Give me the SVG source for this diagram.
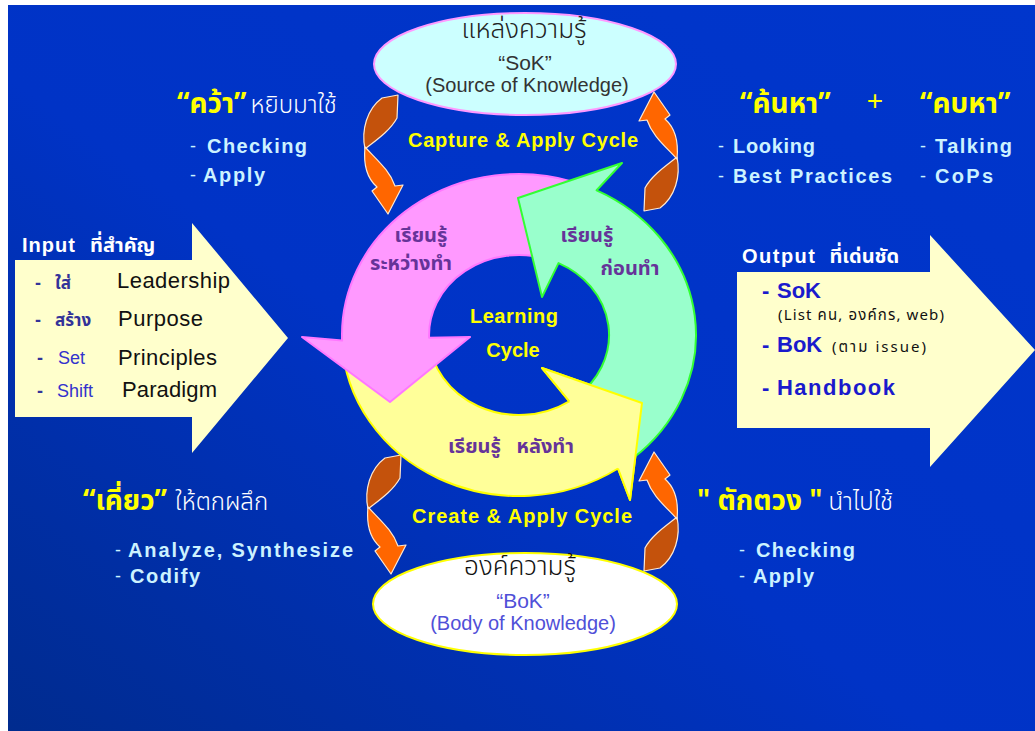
<svg xmlns="http://www.w3.org/2000/svg" width="1035" height="731" viewBox="0 0 1035 731">
<style>
.en{font-family:"Liberation Sans",Arial,sans-serif}
.th{font-family:"Noto Sans Thai","Noto Sans","DejaVu Sans",sans-serif}
.lt{fill:#ccf2ff;font-weight:bold;font-size:20px;font-family:"Liberation Sans",Arial,sans-serif}
.dash{fill:#ccf2ff;font-size:18px;font-family:"Liberation Sans",Arial,sans-serif}
.ttl{fill:#ffff00;font-weight:bold;font-size:28px}
.sub{fill:#ffffff;font-size:24px;font-weight:300}
.ring{fill:#663399;font-weight:bold;font-size:20px}
.cyc{fill:#ffff00;font-weight:bold;font-size:20px;font-family:"Liberation Sans",Arial,sans-serif}
.in{fill:#111111;font-size:22px;font-family:"Liberation Sans",Arial,sans-serif}
.inth{fill:#333399;font-weight:bold;font-size:17px}
.inen{fill:#3333cc;font-size:18px;font-family:"Liberation Sans",Arial,sans-serif}
.outb{fill:#1a1acc;font-weight:bold;font-size:22px;font-family:"Liberation Sans",Arial,sans-serif}
.outs{fill:#111111;font-size:15px}
.hdr{fill:#ffffff;font-weight:bold;font-size:20px}
</style>
<defs>
<linearGradient id="bg" x1="1" y1="0" x2="0" y2="1">
<stop offset="0" stop-color="#0036cc"/>
<stop offset="0.55" stop-color="#0033c6"/>
<stop offset="1" stop-color="#002b8e"/>
</linearGradient>
<g id="oarr" stroke="#ffe8d0" stroke-width="1.2" stroke-linejoin="round">
<path d="M32,13 L48,10 L47,33 C40,46 25,56 15,64 C11,45 17,24 32,13 Z" fill="#c4520c"/>
<path d="M15,62 C13,82 19,95 27,102 L22,106 L38,129 L53,100 L45,101 C40,86 28,76 15,62 Z" fill="#ff6600"/>
</g>
</defs>
<rect x="0" y="0" width="1035" height="731" fill="#ffffff"/>
<rect x="8" y="5" width="1027" height="726" fill="url(#bg)"/>

<g id="orange-arrows">
<use href="#oarr" transform="translate(350,85)"/>
<use href="#oarr" transform="translate(692,221) scale(-1,-1)"/>
<use href="#oarr" transform="translate(353,445)"/>
<use href="#oarr" transform="translate(692,581) scale(-1,-1)"/>
</g>

<g id="sok">
<ellipse cx="525" cy="64" rx="151" ry="51" fill="#ccffff" stroke="#ff99ff" stroke-width="2"/>
<text class="th" x="524" y="38" text-anchor="middle" font-size="26" fill="#222222" font-weight="300">แหล่งความรู้</text>
<text class="en" x="525" y="70" text-anchor="middle" font-size="21" fill="#333333">“SoK”</text>
<text class="en" x="527" y="92" text-anchor="middle" font-size="20" fill="#333333">(Source of Knowledge)</text>
</g>

<g id="bok">
<ellipse cx="525" cy="604" rx="152" ry="51" fill="#ffffff" stroke="#ffff00" stroke-width="2"/>
<text class="th" x="520" y="575" text-anchor="middle" font-size="26" fill="#111111" font-weight="300">องค์ความรู้</text>
<text class="en" x="523" y="608" text-anchor="middle" font-size="21" fill="#5050d8">“BoK”</text>
<text class="en" x="523" y="630" text-anchor="middle" font-size="20" fill="#5050d8">(Body of Knowledge)</text>
</g>

<g id="cycle-labels">
<text class="cyc" x="408" y="147" textLength="230" lengthAdjust="spacing">Capture &amp; Apply Cycle</text>
<text class="cyc" x="412" y="523" textLength="220" lengthAdjust="spacing">Create &amp; Apply Cycle</text>
</g>

<g id="learning-cycle">
<path d="M342.1,340.6 A177,161 0 0 0 618.0,468.5 L630,500 L642,403 L542,368 L569.3,401.3 A90,80 0 0 1 429.1,337.8 Z" fill="#ffff99" stroke="#ffff00" stroke-width="2" stroke-linejoin="round"/>
<path d="M573.7,181.9 A177,161 0 0 0 342.1,340.6 L302,337 L390,402 L470,337 L429.1,337.8 A90,80 0 0 1 546.8,258.9 Z" fill="#ff99ff" stroke="#ff77ff" stroke-width="2" stroke-linejoin="round"/>
<path d="M632.8,458.3 A177,161 0 0 0 596.6,190.3 L622,163 L518,198 L542,297 L558.5,263.1 A90,80 0 0 1 576.9,396.3 Z" fill="#99ffcc" stroke="#33ff33" stroke-width="2" stroke-linejoin="round"/>
<path d="M569.3,401.3 L542,368 L642,403 L630,500 L618,468.5 Z" fill="#ffff99"/>
<path d="M569.3,401.3 L542,368 L642,403 L630,500 L618,468.5" fill="none" stroke="#ffff00" stroke-width="2" stroke-linejoin="round"/>
<text class="th ring" x="421" y="242" text-anchor="middle">เรียนรู้</text>
<text class="th ring" x="411" y="270" text-anchor="middle">ระหว่างทำ</text>
<text class="th ring" x="587" y="242" text-anchor="middle">เรียนรู้</text>
<text class="th ring" x="630" y="275" text-anchor="middle">ก่อนทำ</text>
<text class="th ring" x="511" y="453" text-anchor="middle" xml:space="preserve">เรียนรู้   หลังทำ</text>
<text class="cyc" x="470" y="323" textLength="88" lengthAdjust="spacing">Learning</text>
<text class="cyc" x="513" y="357" text-anchor="middle">Cycle</text>
</g>

<g id="capture">
<text class="th" x="177" y="113"><tspan class="ttl">“คว้า”</tspan><tspan class="sub" dx="4">หยิบมาใช้</tspan></text>
<text class="dash" x="190" y="152">-</text>
<text class="lt" x="207" y="153" textLength="100" lengthAdjust="spacing">Checking</text>
<text class="dash" x="190" y="181">-</text>
<text class="lt" x="203" y="182" textLength="62" lengthAdjust="spacing">Apply</text>
</g>

<g id="search">
<text class="th ttl" x="740" y="113">“ค้นหา”</text>
<text class="en" x="875" y="110" text-anchor="middle" font-size="28" fill="#ffff00">+</text>
<text class="th ttl" x="920" y="113">“คบหา”</text>
<text class="dash" x="718" y="152">-</text>
<text class="lt" x="733" y="153" textLength="82" lengthAdjust="spacing">Looking</text>
<text class="dash" x="718" y="182">-</text>
<text class="lt" x="733" y="183" textLength="159" lengthAdjust="spacing">Best Practices</text>
<text class="dash" x="920" y="152">-</text>
<text class="lt" x="935" y="153" textLength="77" lengthAdjust="spacing">Talking</text>
<text class="dash" x="920" y="182">-</text>
<text class="lt" x="935" y="183" textLength="58" lengthAdjust="spacing">CoPs</text>
</g>

<g id="chew">
<text class="th" x="83" y="510"><tspan class="ttl">“เคี่ยว”</tspan><tspan class="sub" dx="8">ให้ตกผลึก</tspan></text>
<text class="dash" x="115" y="556">-</text>
<text class="lt" x="128" y="557" textLength="225" lengthAdjust="spacing">Analyze, Synthesize</text>
<text class="dash" x="115" y="582">-</text>
<text class="lt" x="130" y="583" textLength="70" lengthAdjust="spacing">Codify</text>
</g>

<g id="scoop">
<text class="th" x="697" y="510" xml:space="preserve"><tspan class="ttl" font-size="24">" ตักตวง "</tspan><tspan class="sub" dx="6">นำไปใช้</tspan></text>
<text class="dash" x="739" y="556">-</text>
<text class="lt" x="756" y="557" textLength="99" lengthAdjust="spacing">Checking</text>
<text class="dash" x="739" y="582">-</text>
<text class="lt" x="753" y="583" textLength="61" lengthAdjust="spacing">Apply</text>
</g>

<g id="input">
<polygon points="15,260 192,260 192,223 288,338 192,453 192,417 15,417" fill="#ffffcc"/>
<text class="th hdr" x="22" y="252"><tspan class="en" textLength="53">Input</tspan><tspan dx="14">ที่สำคัญ</tspan></text>
<text class="en" x="35" y="289" font-size="18" font-weight="bold" fill="#333399">-</text>
<text class="th inth" x="55" y="289">ใส่</text>
<text class="in" x="117" y="288" textLength="113" lengthAdjust="spacing">Leadership</text>
<text class="en" x="35" y="326" font-size="18" font-weight="bold" fill="#333399">-</text>
<text class="th inth" x="55" y="326">สร้าง</text>
<text class="in" x="118" y="326" textLength="85" lengthAdjust="spacing">Purpose</text>
<text class="en" x="37" y="364" font-size="18" font-weight="bold" fill="#333399">-</text>
<text class="inen" x="58" y="364">Set</text>
<text class="in" x="118" y="365" textLength="99" lengthAdjust="spacing">Principles</text>
<text class="en" x="37" y="397" font-size="18" font-weight="bold" fill="#333399">-</text>
<text class="inen" x="57" y="397">Shift</text>
<text class="in" x="122" y="397" textLength="95" lengthAdjust="spacing">Paradigm</text>
</g>

<g id="output">
<polygon points="737,272 930,272 930,235 1035,350 930,467 930,428 737,428" fill="#ffffcc"/>
<text class="th hdr" x="742" y="263"><tspan class="en" textLength="73" lengthAdjust="spacing">Output</tspan><tspan dx="13">ที่เด่นชัด</tspan></text>
<text class="outb" x="762" y="298">-</text>
<text class="outb" x="777" y="298">SoK</text>
<text class="th outs" x="778" y="320" textLength="166" lengthAdjust="spacing">(List คน, องค์กร, web)</text>
<text class="outb" x="762" y="352">-</text>
<text class="outb" x="777" y="352">BoK</text>
<text class="th outs" x="832" y="352" textLength="94" lengthAdjust="spacing">(ตาม issue)</text>
<text class="outb" x="762" y="395" fill="#3333bb">-</text>
<text class="outb" x="777" y="395" fill="#3333bb" textLength="118" lengthAdjust="spacing">Handbook</text>
</g>
</svg>
